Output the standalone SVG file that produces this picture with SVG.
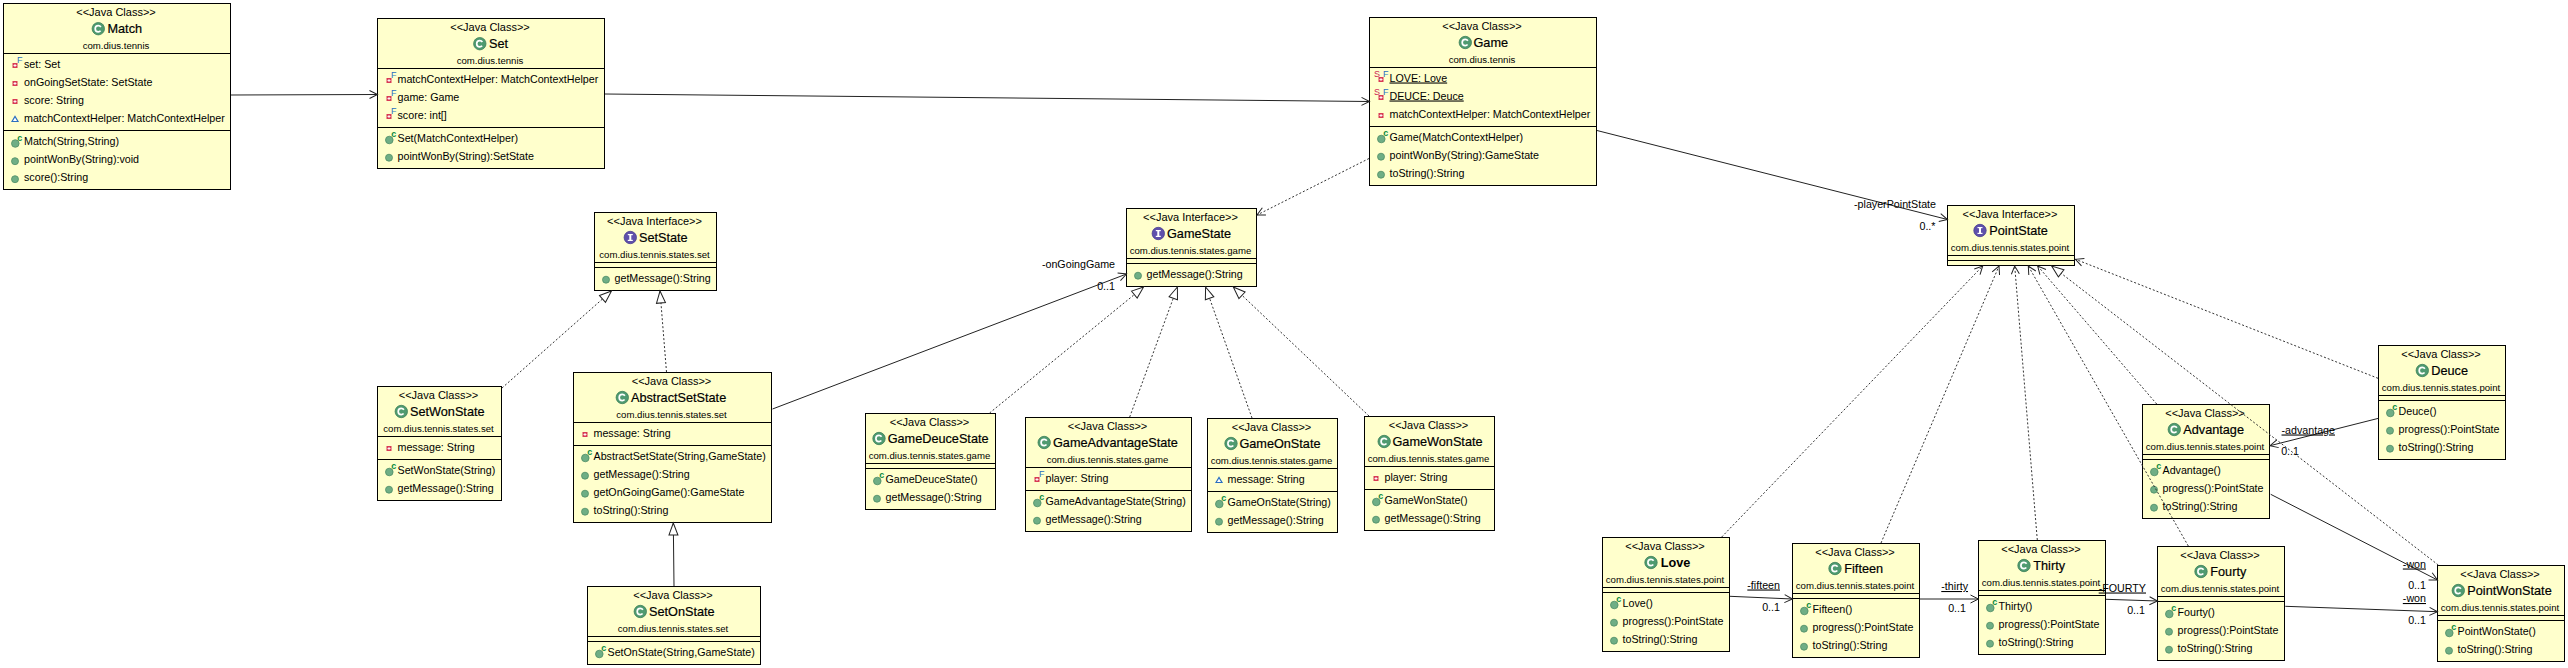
<svg xmlns="http://www.w3.org/2000/svg" width="2568" height="668" viewBox="0 0 2568 668">
<style>
text{font-family:"Liberation Sans",Arial,sans-serif;fill:#000;white-space:pre}
.b{fill:#ffffcc;stroke:#000;stroke-width:1}
.d{stroke:#000;stroke-width:1}
.st{font-size:11px;text-anchor:middle}
.nm{font-size:12.7px;stroke:#000;stroke-width:.2}
.bd{font-weight:bold;stroke:none}
.pk{font-size:9.6px;text-anchor:middle}
.m{font-size:10.7px}
.u{text-decoration:underline}
.e{text-anchor:end;font-size:10.7px}
.sup{font-size:9px}
.a{fill:none;stroke:#222;stroke-width:1}
.o{marker-end:url(#open)}
.k{stroke-dasharray:2 2;stroke:#333}
.t{marker-end:url(#tri)}
</style>
<defs>
<marker id="open" markerUnits="userSpaceOnUse" markerWidth="14" markerHeight="14" refX="11" refY="7" orient="auto" overflow="visible"><path d="M3,3 L11,7 L3,11" fill="none" stroke="#222" stroke-width="1"/></marker>
<marker id="tri" markerUnits="userSpaceOnUse" markerWidth="16" markerHeight="14" refX="14" refY="7" orient="auto" overflow="visible"><path d="M2,2.5 L14,7 L2,11.5 Z" fill="#fff" stroke="#222" stroke-width="1"/></marker>
<g id="cls"><circle r="6.2" fill="#4f9a70" stroke="#3c8058" stroke-width=".8"/><circle r="3.1" fill="none" stroke="#fff" stroke-width="1.7" stroke-dasharray="15 4.5" stroke-dashoffset="-2.2"/></g>
<g id="ifc"><circle r="6.2" fill="#5f50ab" stroke="#4a3e90" stroke-width=".8"/><rect x="-1" y="-3" width="2" height="6" fill="#fff"/><rect x="-2.5" y="-3.5" width="5" height="1.2" fill="#fff"/><rect x="-2.5" y="2.3" width="5" height="1.2" fill="#fff"/></g>
<g id="pub"><circle cy="1.7" r="3.5" fill="#6fae85" stroke="#4e8d66" stroke-width=".8"/></g>
<g id="ctor"><circle cx=".3" cy="2" r="3.8" fill="#6fae85" stroke="#4e8d66" stroke-width=".8"/><text x="2.2" y="-1" class="sup" font-weight="bold" style="fill:#0a8a40">c</text></g>
<g id="priv"><rect x="-2.5" y="-1" width="5" height="5" fill="#d83a55"/><rect x="-1.5" y="1.1" width="3" height=".9" fill="#fff"/><rect x="-.45" y="0" width=".9" height="3" fill="#fff"/></g>
<g id="privf"><use href="#priv"/><text x="2" y="-1.5" class="sup" style="fill:#2a6fc0">F</text></g>
<g id="pkg"><path d="M-3,3.5 L0,-1.5 L3,3.5 Z" fill="#fff" stroke="#2a6fc0" stroke-width="1.2"/></g>
<g id="sf"><use href="#priv"/><text x="-7" y="-1" class="sup" style="fill:#cc1f55">S</text><text x="2" y="-1" class="sup" style="fill:#2a6fc0">F</text></g>
</defs>
<rect width="2568" height="668" fill="#fff"/>
<g id="nodes">
<g id="Match"><rect class="b" x="3.5" y="3.5" width="227" height="186"/><line class="d" x1="3.5" y1="53.5" x2="230.5" y2="53.5"/><line class="d" x1="3.5" y1="130.5" x2="230.5" y2="130.5"/>
<text class="st" x="116" y="15.5">&lt;&lt;Java Class&gt;&gt;</text><use href="#cls" x="98.3" y="28.7"/><text class="nm" x="107.5" y="33">Match</text><text class="pk" x="116" y="48.5">com.dius.tennis</text>
<use href="#privf" x="15" y="64"/><text class="m" x="24" y="67.5">set: Set</text><use href="#priv" x="15" y="82"/><text class="m" x="24" y="85.5">onGoingSetState: SetState</text><use href="#priv" x="15" y="100"/><text class="m" x="24" y="103.5">score: String</text><use href="#pkg" x="15" y="118"/><text class="m" x="24" y="121.5">matchContextHelper: MatchContextHelper</text>
<use href="#ctor" x="15" y="141.5"/><text class="m" x="24" y="145">Match(String,String)</text><use href="#pub" x="15" y="159.5"/><text class="m" x="24" y="163">pointWonBy(String):void</text><use href="#pub" x="15" y="177.5"/><text class="m" x="24" y="181">score():String</text></g>

<g id="Set"><rect class="b" x="377.5" y="18.5" width="227" height="150"/><line class="d" x1="377.5" y1="68.5" x2="604.5" y2="68.5"/><line class="d" x1="377.5" y1="127.5" x2="604.5" y2="127.5"/>
<text class="st" x="490" y="30.5">&lt;&lt;Java Class&gt;&gt;</text><use href="#cls" x="479.8" y="43.7"/><text class="nm" x="489" y="48">Set</text><text class="pk" x="490" y="63.5">com.dius.tennis</text>
<use href="#privf" x="389" y="79"/><text class="m" x="397.5" y="82.5">matchContextHelper: MatchContextHelper</text><use href="#privf" x="389" y="97"/><text class="m" x="397.5" y="100.5">game: Game</text><use href="#privf" x="389" y="115"/><text class="m" x="397.5" y="118.5">score: int[]</text>
<use href="#ctor" x="389" y="138"/><text class="m" x="397.5" y="141.5">Set(MatchContextHelper)</text><use href="#pub" x="389" y="156"/><text class="m" x="397.5" y="159.5">pointWonBy(String):SetState</text></g>

<g id="Game"><rect class="b" x="1369.5" y="17.5" width="227" height="168"/><line class="d" x1="1369.5" y1="67.5" x2="1596.5" y2="67.5"/><line class="d" x1="1369.5" y1="126.5" x2="1596.5" y2="126.5"/>
<text class="st" x="1482" y="29.5">&lt;&lt;Java Class&gt;&gt;</text><use href="#cls" x="1465.3" y="42.5"/><text class="nm" x="1473.5" y="47">Game</text><text class="pk" x="1482" y="62.5">com.dius.tennis</text>
<use href="#sf" x="1381" y="78"/><text class="m u" x="1389.5" y="81.5">LOVE: Love</text><use href="#sf" x="1381" y="96"/><text class="m u" x="1389.5" y="99.5">DEUCE: Deuce</text><use href="#priv" x="1381" y="114"/><text class="m" x="1389.5" y="117.5">matchContextHelper: MatchContextHelper</text>
<use href="#ctor" x="1381" y="137"/><text class="m" x="1389.5" y="140.5">Game(MatchContextHelper)</text><use href="#pub" x="1381" y="155"/><text class="m" x="1389.5" y="158.5">pointWonBy(String):GameState</text><use href="#pub" x="1381" y="173"/><text class="m" x="1389.5" y="176.5">toString():String</text></g>

<g id="SetState"><rect class="b" x="594.5" y="212.5" width="122" height="78"/><line class="d" x1="594.5" y1="262.5" x2="716.5" y2="262.5"/><line class="d" x1="594.5" y1="267.5" x2="716.5" y2="267.5"/>
<text class="st" x="654.5" y="224.5">&lt;&lt;Java Interface&gt;&gt;</text><use href="#ifc" x="630.3" y="237.5"/><text class="nm" x="639" y="242">SetState</text><text class="pk" x="654.5" y="257.5">com.dius.tennis.states.set</text>
<use href="#pub" x="606" y="278"/><text class="m" x="614.5" y="281.5">getMessage():String</text></g>

<g id="SetWonState"><rect class="b" x="377.5" y="386.5" width="124" height="114"/><line class="d" x1="377.5" y1="436.5" x2="501.5" y2="436.5"/><line class="d" x1="377.5" y1="459.5" x2="501.5" y2="459.5"/>
<text class="st" x="438.5" y="398.5">&lt;&lt;Java Class&gt;&gt;</text><use href="#cls" x="401.3" y="411.5"/><text class="nm" x="410" y="416">SetWonState</text><text class="pk" x="438.5" y="431.5">com.dius.tennis.states.set</text>
<use href="#priv" x="389" y="447"/><text class="m" x="397.5" y="450.5">message: String</text>
<use href="#ctor" x="389" y="470"/><text class="m" x="397.5" y="473.5">SetWonState(String)</text><use href="#pub" x="389" y="488"/><text class="m" x="397.5" y="491.5">getMessage():String</text></g>

<g id="AbstractSetState"><rect class="b" x="573.5" y="372.5" width="198" height="150"/><line class="d" x1="573.5" y1="422.5" x2="771.5" y2="422.5"/><line class="d" x1="573.5" y1="445.5" x2="771.5" y2="445.5"/>
<text class="st" x="671.5" y="384.5">&lt;&lt;Java Class&gt;&gt;</text><use href="#cls" x="622.3" y="397.5"/><text class="nm" x="631" y="402">AbstractSetState</text><text class="pk" x="671.5" y="417.5">com.dius.tennis.states.set</text>
<use href="#priv" x="585" y="433"/><text class="m" x="593.5" y="436.5">message: String</text>
<use href="#ctor" x="585" y="456"/><text class="m" x="593.5" y="459.5">AbstractSetState(String,GameState)</text><use href="#pub" x="585" y="474"/><text class="m" x="593.5" y="477.5">getMessage():String</text><use href="#pub" x="585" y="492"/><text class="m" x="593.5" y="495.5">getOnGoingGame():GameState</text><use href="#pub" x="585" y="510"/><text class="m" x="593.5" y="513.5">toString():String</text></g>

<g id="SetOnState"><rect class="b" x="587.5" y="586.5" width="173" height="78"/><line class="d" x1="587.5" y1="636.5" x2="760.5" y2="636.5"/><line class="d" x1="587.5" y1="641.5" x2="760.5" y2="641.5"/>
<text class="st" x="673" y="598.5">&lt;&lt;Java Class&gt;&gt;</text><use href="#cls" x="640.3" y="611.5"/><text class="nm" x="649" y="616">SetOnState</text><text class="pk" x="673" y="631.5">com.dius.tennis.states.set</text>
<use href="#ctor" x="599" y="652"/><text class="m" x="607.5" y="655.5">SetOnState(String,GameState)</text></g>

<g id="GameState"><rect class="b" x="1126.5" y="208.5" width="130" height="78"/><line class="d" x1="1126.5" y1="258.5" x2="1256.5" y2="258.5"/><line class="d" x1="1126.5" y1="263.5" x2="1256.5" y2="263.5"/>
<text class="st" x="1190.5" y="220.5">&lt;&lt;Java Interface&gt;&gt;</text><use href="#ifc" x="1158.3" y="233.5"/><text class="nm" x="1167" y="238">GameState</text><text class="pk" x="1190.5" y="253.5">com.dius.tennis.states.game</text>
<use href="#pub" x="1138" y="274"/><text class="m" x="1146.5" y="277.5">getMessage():String</text></g>

<g id="GameDeuceState"><rect class="b" x="865.5" y="413.5" width="130" height="96"/><line class="d" x1="865.5" y1="463.5" x2="995.5" y2="463.5"/><line class="d" x1="865.5" y1="468.5" x2="995.5" y2="468.5"/>
<text class="st" x="929.5" y="425.5">&lt;&lt;Java Class&gt;&gt;</text><use href="#cls" x="879" y="438.5"/><text class="nm" x="887.7" y="443">GameDeuceState</text><text class="pk" x="929.5" y="458.5">com.dius.tennis.states.game</text>
<use href="#ctor" x="877" y="479"/><text class="m" x="885.5" y="482.5">GameDeuceState()</text><use href="#pub" x="877" y="497"/><text class="m" x="885.5" y="500.5">getMessage():String</text></g>

<g id="GameAdvantageState"><rect class="b" x="1025.5" y="417.5" width="166" height="114"/><line class="d" x1="1025.5" y1="467.5" x2="1191.5" y2="467.5"/><line class="d" x1="1025.5" y1="490.5" x2="1191.5" y2="490.5"/>
<text class="st" x="1107.5" y="429.5">&lt;&lt;Java Class&gt;&gt;</text><use href="#cls" x="1044.2" y="442.5"/><text class="nm" x="1053" y="447">GameAdvantageState</text><text class="pk" x="1107.5" y="462.5">com.dius.tennis.states.game</text>
<use href="#privf" x="1037" y="478"/><text class="m" x="1045.5" y="481.5">player: String</text>
<use href="#ctor" x="1037" y="501"/><text class="m" x="1045.5" y="504.5">GameAdvantageState(String)</text><use href="#pub" x="1037" y="519"/><text class="m" x="1045.5" y="522.5">getMessage():String</text></g>

<g id="GameOnState"><rect class="b" x="1207.5" y="418.5" width="130" height="114"/><line class="d" x1="1207.5" y1="468.5" x2="1337.5" y2="468.5"/><line class="d" x1="1207.5" y1="491.5" x2="1337.5" y2="491.5"/>
<text class="st" x="1271.5" y="430.5">&lt;&lt;Java Class&gt;&gt;</text><use href="#cls" x="1231" y="443.5"/><text class="nm" x="1239.4" y="448">GameOnState</text><text class="pk" x="1271.5" y="463.5">com.dius.tennis.states.game</text>
<use href="#pkg" x="1219" y="479"/><text class="m" x="1227.5" y="482.5">message: String</text>
<use href="#ctor" x="1219" y="502"/><text class="m" x="1227.5" y="505.5">GameOnState(String)</text><use href="#pub" x="1219" y="520"/><text class="m" x="1227.5" y="523.5">getMessage():String</text></g>

<g id="GameWonState"><rect class="b" x="1364.5" y="416.5" width="130" height="114"/><line class="d" x1="1364.5" y1="466.5" x2="1494.5" y2="466.5"/><line class="d" x1="1364.5" y1="489.5" x2="1494.5" y2="489.5"/>
<text class="st" x="1428.5" y="428.5">&lt;&lt;Java Class&gt;&gt;</text><use href="#cls" x="1384.2" y="441.5"/><text class="nm" x="1392.5" y="446">GameWonState</text><text class="pk" x="1428.5" y="461.5">com.dius.tennis.states.game</text>
<use href="#priv" x="1376" y="477"/><text class="m" x="1384.5" y="480.5">player: String</text>
<use href="#ctor" x="1376" y="500"/><text class="m" x="1384.5" y="503.5">GameWonState()</text><use href="#pub" x="1376" y="518"/><text class="m" x="1384.5" y="521.5">getMessage():String</text></g>

<g id="PointState"><rect class="b" x="1947.5" y="205.5" width="127" height="60"/><line class="d" x1="1947.5" y1="255.5" x2="2074.5" y2="255.5"/><line class="d" x1="1947.5" y1="260.5" x2="2074.5" y2="260.5"/>
<text class="st" x="2010" y="217.5">&lt;&lt;Java Interface&gt;&gt;</text><use href="#ifc" x="1980" y="230.5"/><text class="nm" x="1989.3" y="235">PointState</text><text class="pk" x="2010" y="250.5">com.dius.tennis.states.point</text></g>

<g id="Love"><rect class="b" x="1602.5" y="537.5" width="127" height="114"/><line class="d" x1="1602.5" y1="587.5" x2="1729.5" y2="587.5"/><line class="d" x1="1602.5" y1="592.5" x2="1729.5" y2="592.5"/>
<text class="st" x="1665" y="549.5">&lt;&lt;Java Class&gt;&gt;</text><use href="#cls" x="1651" y="562.5"/><text class="nm bd" x="1660.7" y="567">Love</text><text class="pk" x="1665" y="582.5">com.dius.tennis.states.point</text>
<use href="#ctor" x="1614" y="603"/><text class="m" x="1622.5" y="606.5">Love()</text><use href="#pub" x="1614" y="621"/><text class="m" x="1622.5" y="624.5">progress():PointState</text><use href="#pub" x="1614" y="639"/><text class="m" x="1622.5" y="642.5">toString():String</text></g>

<g id="Fifteen"><rect class="b" x="1792.5" y="543.5" width="127" height="114"/><line class="d" x1="1792.5" y1="593.5" x2="1919.5" y2="593.5"/><line class="d" x1="1792.5" y1="598.5" x2="1919.5" y2="598.5"/>
<text class="st" x="1855" y="555.5">&lt;&lt;Java Class&gt;&gt;</text><use href="#cls" x="1835" y="568.5"/><text class="nm" x="1844.3" y="573">Fifteen</text><text class="pk" x="1855" y="588.5">com.dius.tennis.states.point</text>
<use href="#ctor" x="1804" y="609"/><text class="m" x="1812.5" y="612.5">Fifteen()</text><use href="#pub" x="1804" y="627"/><text class="m" x="1812.5" y="630.5">progress():PointState</text><use href="#pub" x="1804" y="645"/><text class="m" x="1812.5" y="648.5">toString():String</text></g>

<g id="Thirty"><rect class="b" x="1978.5" y="540.5" width="127" height="114"/><line class="d" x1="1978.5" y1="590.5" x2="2105.5" y2="590.5"/><line class="d" x1="1978.5" y1="595.5" x2="2105.5" y2="595.5"/>
<text class="st" x="2041" y="552.5">&lt;&lt;Java Class&gt;&gt;</text><use href="#cls" x="2024" y="565.5"/><text class="nm" x="2033.3" y="570">Thirty</text><text class="pk" x="2041" y="585.5">com.dius.tennis.states.point</text>
<use href="#ctor" x="1990" y="606"/><text class="m" x="1998.5" y="609.5">Thirty()</text><use href="#pub" x="1990" y="624"/><text class="m" x="1998.5" y="627.5">progress():PointState</text><use href="#pub" x="1990" y="642"/><text class="m" x="1998.5" y="645.5">toString():String</text></g>

<g id="Fourty"><rect class="b" x="2157.5" y="546.5" width="127" height="114"/><line class="d" x1="2157.5" y1="596.5" x2="2284.5" y2="596.5"/><line class="d" x1="2157.5" y1="601.5" x2="2284.5" y2="601.5"/>
<text class="st" x="2220" y="558.5">&lt;&lt;Java Class&gt;&gt;</text><use href="#cls" x="2201" y="571.5"/><text class="nm" x="2210.3" y="576">Fourty</text><text class="pk" x="2220" y="591.5">com.dius.tennis.states.point</text>
<use href="#ctor" x="2169" y="612"/><text class="m" x="2177.5" y="615.5">Fourty()</text><use href="#pub" x="2169" y="630"/><text class="m" x="2177.5" y="633.5">progress():PointState</text><use href="#pub" x="2169" y="648"/><text class="m" x="2177.5" y="651.5">toString():String</text></g>

<g id="Advantage"><rect class="b" x="2142.5" y="404.5" width="127" height="114"/><line class="d" x1="2142.5" y1="454.5" x2="2269.5" y2="454.5"/><line class="d" x1="2142.5" y1="459.5" x2="2269.5" y2="459.5"/>
<text class="st" x="2205" y="416.5">&lt;&lt;Java Class&gt;&gt;</text><use href="#cls" x="2174.3" y="429.5"/><text class="nm" x="2183.3" y="434">Advantage</text><text class="pk" x="2205" y="449.5">com.dius.tennis.states.point</text>
<use href="#ctor" x="2154" y="470"/><text class="m" x="2162.5" y="473.5">Advantage()</text><use href="#pub" x="2154" y="488"/><text class="m" x="2162.5" y="491.5">progress():PointState</text><use href="#pub" x="2154" y="506"/><text class="m" x="2162.5" y="509.5">toString():String</text></g>

<g id="Deuce"><rect class="b" x="2378.5" y="345.5" width="127" height="114"/><line class="d" x1="2378.5" y1="395.5" x2="2505.5" y2="395.5"/><line class="d" x1="2378.5" y1="400.5" x2="2505.5" y2="400.5"/>
<text class="st" x="2441" y="357.5">&lt;&lt;Java Class&gt;&gt;</text><use href="#cls" x="2422.3" y="370.5"/><text class="nm" x="2431.3" y="375">Deuce</text><text class="pk" x="2441" y="390.5">com.dius.tennis.states.point</text>
<use href="#ctor" x="2390" y="411"/><text class="m" x="2398.5" y="414.5">Deuce()</text><use href="#pub" x="2390" y="429"/><text class="m" x="2398.5" y="432.5">progress():PointState</text><use href="#pub" x="2390" y="447"/><text class="m" x="2398.5" y="450.5">toString():String</text></g>

<g id="PointWonState"><rect class="b" x="2437.5" y="565.5" width="127" height="96"/><line class="d" x1="2437.5" y1="615.5" x2="2564.5" y2="615.5"/><line class="d" x1="2437.5" y1="620.5" x2="2564.5" y2="620.5"/>
<text class="st" x="2500" y="577.5">&lt;&lt;Java Class&gt;&gt;</text><use href="#cls" x="2458.3" y="590.5"/><text class="nm" x="2467.3" y="595">PointWonState</text><text class="pk" x="2500" y="610.5">com.dius.tennis.states.point</text>
<use href="#ctor" x="2449" y="631"/><text class="m" x="2457.5" y="634.5">PointWonState()</text><use href="#pub" x="2449" y="649"/><text class="m" x="2457.5" y="652.5">toString():String</text></g>
</g>
<g id="connectors">
<line class="a o" x1="231" y1="95" x2="377.5" y2="94.5"/>
<line class="a o" x1="605" y1="94" x2="1369.5" y2="101.5"/>
<line class="a o" x1="1597" y1="130.5" x2="1947.5" y2="219.5"/>
<line class="a o k" x1="1369" y1="158.5" x2="1257" y2="215"/>
<line class="a o" x1="772.5" y1="409" x2="1126.5" y2="274"/>
<line class="a k t" x1="502" y1="388" x2="611.5" y2="291"/>
<line class="a k t" x1="666.5" y1="372" x2="660" y2="291"/>
<line class="a t" x1="674" y1="586" x2="673.3" y2="523"/>
<line class="a k t" x1="989.6" y1="413" x2="1143.6" y2="287"/>
<line class="a k t" x1="1129.7" y1="417" x2="1177.4" y2="287"/>
<line class="a k t" x1="1252" y1="418" x2="1205.6" y2="287"/>
<line class="a k t" x1="1369" y1="416" x2="1233.3" y2="287"/>
<line class="a k o" x1="1721.7" y1="537" x2="1982.7" y2="266"/>
<line class="a k o" x1="1881" y1="543" x2="1999" y2="266"/>
<line class="a k o" x1="2037.3" y1="540" x2="2014.7" y2="266"/>
<line class="a k o" x1="2188.3" y1="546" x2="2028.3" y2="266"/>
<line class="a k o" x1="2156.7" y1="404" x2="2037.7" y2="266"/>
<line class="a k t" x1="2438.3" y1="565" x2="2051.7" y2="266"/>
<line class="a k o" x1="2378" y1="378.3" x2="2075.5" y2="259.3"/>
<line class="a o" x1="2378.5" y1="418.3" x2="2270" y2="445.7"/>
<line class="a o" x1="2270.7" y1="494.3" x2="2437.5" y2="580"/>
<line class="a o" x1="2285.3" y1="606.3" x2="2437.5" y2="611.7"/>
<line class="a o" x1="1730" y1="596.3" x2="1792.5" y2="599"/>
<line class="a o" x1="1920" y1="599" x2="1978.5" y2="599"/>
<line class="a o" x1="2106" y1="599.3" x2="2157.5" y2="601"/>
<text class="e" x="1936" y="207.5">-playerPointState</text>
<text class="e" x="1935.5" y="229.5">0..*</text>
<text class="e" x="1115" y="267.5">-onGoingGame</text>
<text class="e" x="1115" y="289.5">0..1</text>
<text class="e u" x="1780" y="588.5">-fifteen</text>
<text class="e" x="1780" y="610.5">0..1</text>
<text class="e u" x="1968" y="590">-thirty</text>
<text class="e" x="1966" y="611.5">0..1</text>
<text class="e u" x="2146" y="591.5">-FOURTY</text>
<text class="e" x="2145" y="613.5">0..1</text>
<text class="e u" x="2335" y="433.5">-advantage</text>
<text class="e" x="2299" y="455">0..1</text>
<text class="e u" x="2426" y="567.5">-won</text>
<text class="e" x="2426" y="588.5">0..1</text>
<text class="e u" x="2426" y="602">-won</text>
<text class="e" x="2426" y="623.5">0..1</text>
</g>
</svg>
